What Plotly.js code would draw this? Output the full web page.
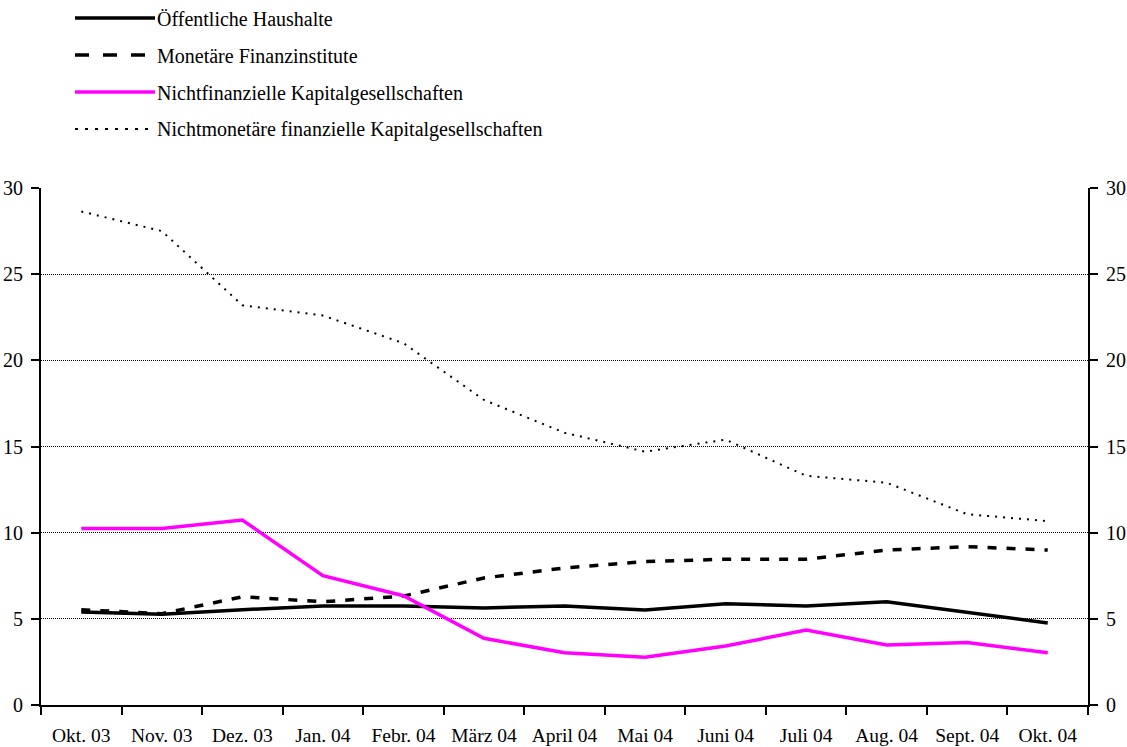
<!DOCTYPE html>
<html>
<head>
<meta charset="utf-8">
<script src="https://cdn.plot.ly/plotly-3.0.1.min.js"></script>
<style>
html,body{margin:0;padding:0;background:#fff;}
#chart{width:1127px;height:747px;}
</style>
</head>
<body>
<div id="chart"></div>
<script>
const categories = ["Okt. 03","Nov. 03","Dez. 03","Jan. 04","Febr. 04","März 04","April 04","Mai 04","Juni 04","Juli 04","Aug. 04","Sept. 04","Okt. 04"];
const seriesNames = ["Öffentliche Haushalte","Monetäre Finanzinstitute","Nichtfinanzielle Kapitalgesellschaften","Nichtmonetäre finanzielle Kapitalgesellschaften"];
const oeffentlicheHaushalte = [5.4, 5.26, 5.53, 5.75, 5.75, 5.63, 5.75, 5.51, 5.87, 5.75, 5.99, 5.4, 4.76];
const monetaereFinanzinstitute = [5.53, 5.3, 6.28, 5.99, 6.32, 7.37, 7.95, 8.32, 8.46, 8.46, 8.99, 9.19, 8.99];
const nichtfinanzielleKG = [10.24, 10.24, 10.73, 7.51, 6.34, 3.87, 3.03, 2.77, 3.42, 4.35, 3.48, 3.62, 3.03];
const nichtmonetaereFKG = [28.64, 27.5, 23.2, 22.6, 21.0, 17.7, 15.8, 14.7, 15.4, 13.3, 12.9, 11.07, 10.67];
const yTicks = [0, 5, 10, 15, 20, 25, 30];

const styles = [
  {color:'#000000', width:3.5, dash:'solid', legDash:'solid'},
  {color:'#000000', width:3.5, dash:'9px,10px', legDash:'14px,14px'},
  {color:'#FF00FF', width:3.5, dash:'solid', legDash:'solid'},
  {color:'#000000', width:2, dash:'2px,6px', legDash:'3px,7px'}
];
const values = [oeffentlicheHaushalte, monetaereFinanzinstitute, nichtfinanzielleKG, nichtmonetaereFKG];

const traces = values.map((v, i) => ({
  type:'scatter', mode:'lines', x:categories, y:v, name:seriesNames[i],
  line:{color:styles[i].color, width:styles[i].width, dash:styles[i].dash},
  showlegend:false, hoverinfo:'skip'
}));
const ordered = [traces[3], traces[1], traces[0], traces[2]];
ordered.push({type:'scatter', mode:'lines', x:[], y:[], yaxis:'y2', showlegend:false, hoverinfo:'skip'});

const W = 1127, H = 747, mL = 41, mR = 39, mT = 188, mB = 42;
const pw = W - mL - mR, ph = H - mT - mB;
const px = x => (x - mL) / pw;
const py = y => (H - mB - y) / ph;

const shapes = [], annotations = [];
const legY = [18, 55, 92, 129];
seriesNames.forEach((n, i) => {
  shapes.push({type:'line', xref:'paper', yref:'paper', x0:px(75), x1:px(155), y0:py(legY[i]), y1:py(legY[i]),
    line:{color:styles[i].color, width:styles[i].width, dash:styles[i].legDash}});
  annotations.push({xref:'paper', yref:'paper', x:px(155), y:py(legY[i] + 1), xanchor:'left', yanchor:'middle',
    text:n, showarrow:false, font:{family:'Liberation Serif', size:20, color:'#000'}});
});

const font = {family:'Liberation Serif', size:20, color:'#000'};
const layout = {
  width:W, height:H, margin:{l:mL, r:mR, t:mT, b:mB, pad:0},
  paper_bgcolor:'#fff', plot_bgcolor:'#fff', font:font, showlegend:false,
  xaxis:{type:'category', tickson:'boundaries', ticks:'outside', ticklen:8, tickwidth:2, tickcolor:'#000',
    showline:true, linecolor:'#000', linewidth:2, showgrid:false, zeroline:false,
    tickfont:{family:'Liberation Serif', size:19.5, color:'#000'}, ticklabelstandoff:12, range:[-0.5,12.5]},
  yaxis:{range:[0,30], tickvals:yTicks, ticks:'outside', ticklen:8, tickwidth:2, tickcolor:'#000',
    showline:true, linecolor:'#000', linewidth:2, showgrid:true, gridcolor:'#000', gridwidth:1, griddash:'1px,1px',
    zeroline:false, tickfont:font, ticklabelstandoff:4},
  yaxis2:{range:[0,30], tickvals:yTicks, overlaying:'y', side:'right', anchor:'x', ticks:'outside', ticklen:8, tickwidth:2, tickcolor:'#000',
    showline:true, linecolor:'#000', linewidth:2, showgrid:false, zeroline:false, tickfont:font, ticklabelstandoff:4},
  shapes:shapes, annotations:annotations
};
Plotly.newPlot('chart', ordered, layout, {staticPlot:true, displayModeBar:false});
</script>
</body>
</html>
